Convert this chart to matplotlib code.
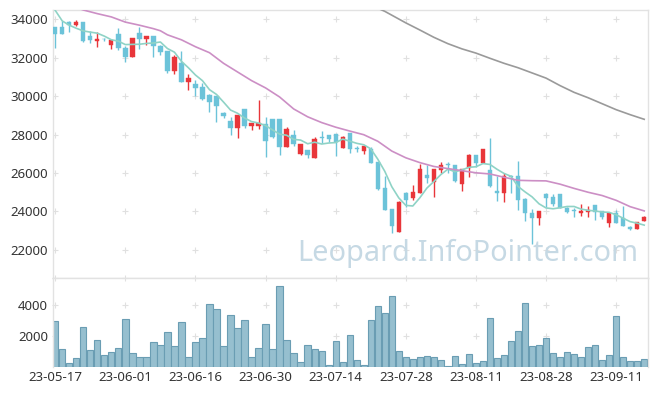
import matplotlib.pyplot as plt
import numpy as np

plt.rcParams['font.family'] = ['Noto Sans', 'DejaVu Sans']

dates = ['23-05-17', '23-05-18', '23-05-19', '23-05-22', '23-05-23', '23-05-24', '23-05-25', '23-05-26',
         '23-05-30', '23-05-31', '23-06-01', '23-06-02', '23-06-05', '23-06-07', '23-06-08', '23-06-09',
         '23-06-12', '23-06-13', '23-06-14', '23-06-15', '23-06-16', '23-06-19', '23-06-20', '23-06-21',
         '23-06-22', '23-06-23', '23-06-26', '23-06-27', '23-06-28', '23-06-29', '23-06-30', '23-07-03',
         '23-07-04', '23-07-05', '23-07-06', '23-07-07', '23-07-10', '23-07-11', '23-07-12', '23-07-13',
         '23-07-14', '23-07-17', '23-07-18', '23-07-19', '23-07-20', '23-07-21', '23-07-24', '23-07-25',
         '23-07-26', '23-07-27', '23-07-28', '23-07-31', '23-08-01', '23-08-02', '23-08-03', '23-08-04',
         '23-08-07', '23-08-08', '23-08-09', '23-08-10', '23-08-11', '23-08-14', '23-08-16', '23-08-17',
         '23-08-18', '23-08-21', '23-08-22', '23-08-23', '23-08-24', '23-08-25', '23-08-28', '23-08-29',
         '23-08-30', '23-08-31', '23-09-01', '23-09-04', '23-09-05', '23-09-06', '23-09-07', '23-09-08',
         '23-09-11', '23-09-12', '23-09-13', '23-09-14', '23-09-15']

opens = [33590, 33590, 33830, 33700, 33840, 33120, 32880, 32960, 32670, 33220,
         32490, 32040, 33270, 32980, 33120, 32615, 32340, 31320, 31710, 30740,
         30620, 30450, 30050, 30000, 29110, 28700, 28350, 29320, 28460, 28460,
         28530, 28800, 28800, 27370, 27970, 26990, 27190, 26800, 27850, 27970,
         28010, 27310, 28070, 27270, 27160, 27250, 26570, 25220, 24130, 22950,
         24980, 24720, 24980, 25900, 25550, 26160, 26420, 26410, 25430, 26240,
         26930, 26540, 26150, 25060, 24980, 25820, 25840, 24650, 23900, 23680,
         24890, 24770, 24910, 24160, 24050, 23910, 23990, 24340, 24030, 23390,
         23900, 23640, 23210, 23110, 23510]
highs = [33600, 33880, 33880, 33950, 33840, 33360, 33310, 33020, 32920, 33520,
         32620, 33010, 33580, 33120, 33120, 32650, 32360, 32110, 32320, 31160,
         30820, 30660, 30090, 30000, 29180, 28890, 29020, 29330, 28620, 29790,
         28890, 28810, 28810, 28400, 28230, 27520, 27200, 27890, 28200, 27990,
         28020, 27900, 28100, 27400, 27410, 27370, 26590, 25840, 24150, 24560,
         24990, 25380, 26470, 26410, 26220, 26560, 26560, 26440, 26200, 26990,
         26940, 27240, 27800, 25840, 25990, 25900, 26640, 24700, 24110, 24040,
         24950, 24900, 24920, 24250, 24170, 24390, 24290, 24350, 24040, 23950,
         24080, 24290, 23250, 23450, 23780]
lows = [32480, 33240, 33310, 33650, 32790, 32740, 32530, 32880, 32430, 32400,
        31750, 32040, 32440, 32660, 32010, 32140, 31210, 31160, 30740, 30300,
        29990, 29790, 29180, 28630, 28850, 27970, 27830, 28350, 28250, 28300,
        26850, 27800, 26940, 27360, 27420, 26930, 26760, 26790, 27540, 27630,
        26900, 27310, 27020, 27110, 26970, 26530, 25110, 24080, 22870, 22950,
        24250, 24600, 24970, 25460, 24770, 25980, 25980, 25550, 25080, 25810,
        26330, 26530, 25260, 24560, 24510, 24950, 24080, 23520, 22300, 23300,
        24250, 24290, 24160, 23900, 23700, 23770, 23700, 23560, 23590, 23210,
        23400, 23240, 23040, 23100, 23500]
closes = [33240, 33240, 33700, 33850, 32880, 32930, 32960, 32940, 32910, 32510,
          32040, 33010, 32980, 33120, 32620, 32300, 31320, 32030, 30740, 30940,
          30420, 29850, 29700, 29500, 28960, 28350, 29010, 28460, 28580, 28580,
          27680, 27890, 27370, 28290, 27510, 27490, 26940, 27770, 27820, 27770,
          27600, 27850, 27240, 27250, 27400, 26540, 25170, 24080, 23250, 24490,
          24600, 25010, 26210, 25760, 26210, 26410, 26400, 25560, 26190, 26930,
          26540, 27230, 25330, 24950, 25840, 25800, 24600, 23910, 23660, 24030,
          24720, 24390, 24170, 23990, 24030, 24040, 24080, 23990, 23730, 23940,
          23420, 23250, 23110, 23440, 23700]
volumes = [2950, 1140, 240, 560, 2600, 1100, 1720, 750, 950, 1200,
           3070, 880, 620, 620, 1590, 1400, 2240, 1330, 2880, 620,
           1590, 1850, 4040, 3720, 1330, 3330, 2490, 3010, 620, 1200,
           2750, 1140, 5200, 1720, 880, 300, 1400, 1140, 1010, 110,
           1680, 300, 2040, 430, 110, 3010, 3910, 3460, 4560, 1010,
           620, 500, 620, 690, 620, 430, 40, 690, 170, 820,
           240, 370, 3140, 560, 750, 1650, 2300, 4110, 1330, 1400,
           1850, 880, 620, 950, 820, 620, 1270, 1400, 430, 750,
           3270, 620, 370, 370, 500]

ma5 = [34450, 33900, 33680, 33520, 33382, 33320, 33264, 33112, 32924, 32850,
       32672, 32682, 32690, 32732, 32754, 32806, 32468, 32278, 31802, 31466,
       31090, 30796, 30330, 30082, 29686, 29272, 29104, 28856, 28672, 28596,
       28462, 28238, 28020, 27962, 27748, 27710, 27520, 27600, 27506, 27558,
       27580, 27762, 27656, 27542, 27468, 27256, 26720, 26088, 25288, 24706,
       24318, 24286, 24712, 25214, 25558, 25920, 26198, 26068, 26154, 26298,
       26324, 26490, 26444, 26196, 25978, 25830, 25304, 25020, 24762, 24400,
       24184, 24142, 24194, 24260, 24260, 24124, 24062, 24026, 23974, 23956,
       23832, 23650, 23472, 23392, 23292]

ma20_idx = [3, 4, 6, 8, 10, 12, 14, 15, 16, 18, 20, 22, 24, 26, 28, 30, 32, 34, 36, 38, 40, 42,
            44, 46, 48, 50, 52, 54, 56, 58, 60, 62, 64, 66, 68, 70, 72, 74, 76, 78, 80, 82, 84]
ma20 = [34600, 34470, 34280, 34110, 33840, 33680, 33500, 33390, 33180, 32920, 32560, 32250,
        31700, 31250, 30800, 30420, 29950, 29330, 28920, 28620, 28380, 28180, 27990, 27650,
        27140, 26790, 26540, 26340, 26230, 26120, 26010, 25950, 25780, 25620, 25600, 25590,
        25420, 25200, 25000, 24830, 24580, 24250, 24030]

ma60_idx = [46, 47, 50, 52, 54, 56, 58, 60, 62, 64, 66, 68, 70, 72, 74, 76, 78, 80, 82, 84]
ma60 = [34560, 34400, 33800, 33430, 33050, 32720, 32450, 32230, 31960, 31700, 31470, 31200,
        30930, 30540, 30190, 29910, 29600, 29290, 29030, 28790]

up_color = '#e8363a'
down_color = '#6cc3d9'
grid_c = '#e0e0e0'

fig = plt.figure(figsize=(6.57, 3.96), dpi=100)
ax = fig.add_axes([0.0814, 0.298, 0.905, 0.6767])
axv = fig.add_axes([0.0814, 0.0732, 0.905, 0.2248], sharex=ax)

x = np.arange(len(dates))
o = np.array(opens)
c = np.array(closes)
colors = [up_color if cc > oo else down_color for oo, cc in zip(o, c)]

# wicks and bodies
ax.vlines(x, lows, highs, colors=colors, linewidth=1.0, zorder=2)
body_h = np.maximum(np.abs(c - o), 45)
ax.bar(x, body_h, bottom=np.minimum(o, c), width=0.62, color=colors, edgecolor=colors,
       linewidth=0.3, zorder=3)

# moving averages
ax.plot(x, ma5, color='#8fd3c6', linewidth=1.2, zorder=4)
ax.plot(ma20_idx, ma20, color='#cc8fc5', linewidth=1.2, zorder=4)
ax.plot(ma60_idx, ma60, color='#9a9a9a', linewidth=1.2, zorder=4)

ax.text(0.6964, 0.092, 'Leopard.InfoPointer.com', transform=ax.transAxes, ha='center',
        va='center', fontsize=20.8, color='#c6d9e4', zorder=1)

ax.set_ylim(20545, 34468)
ax.set_xlim(-0.25, 84.55)
yt = list(range(22000, 34001, 2000))
ax.set_yticks(yt)

# volume
axv.bar(x, volumes, width=0.9, color='#96bfcf', edgecolor='#6a9db3', linewidth=0.8, zorder=2)
axv.set_ylim(0, 5740)
axv.set_yticks([2000, 4000])
xt = list(range(0, 81, 10))
axv.set_xticks(xt)
axv.set_xticklabels([dates[i] for i in xt])

# little plus marks at grid crossings
gx, gy = np.meshgrid(xt, yt)
ax.scatter(gx.ravel(), gy.ravel(), marker='+', s=16, color=grid_c, linewidths=0.8, zorder=0)
gx, gy = np.meshgrid(xt, [2000, 4000, 5740])
axv.scatter(gx.ravel(), gy.ravel(), marker='+', s=16, color=grid_c, linewidths=0.8, zorder=0,
            clip_on=False)

for a in (ax, axv):
    a.tick_params(length=0, labelsize=9.5, colors='#333333')
    a.tick_params(axis='y', pad=4)
    a.tick_params(axis='x', pad=3)
    for s in a.spines.values():
        s.set_color('#e2e2e2')
        s.set_linewidth(1.0)
axv.spines['bottom'].set_visible(False)
ax.tick_params(axis='x', labelbottom=False)

fig.savefig('out.png', dpi=100)
